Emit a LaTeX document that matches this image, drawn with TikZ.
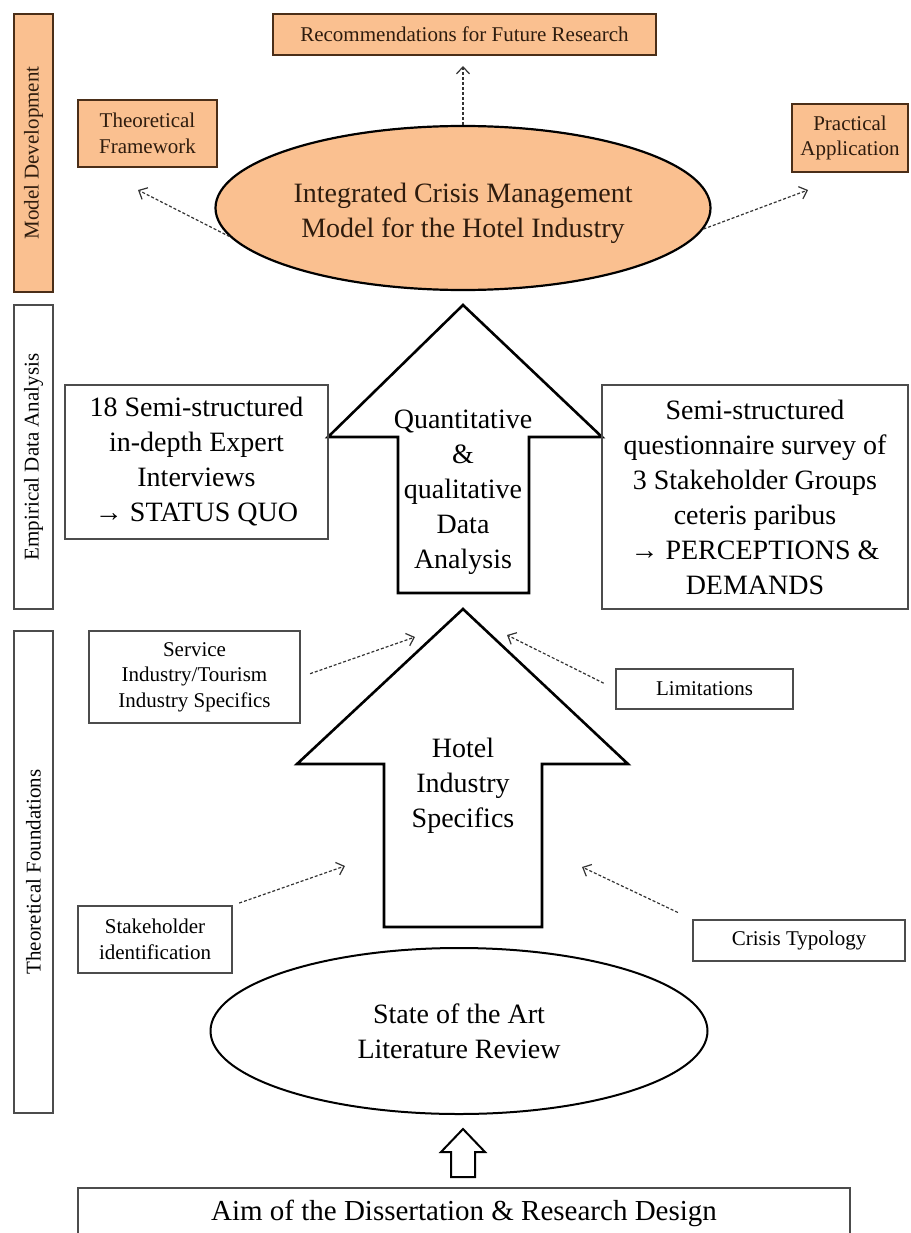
\documentclass[tikz,border=0pt]{standalone}
\usepackage{fontspec}
\setmainfont{Liberation Serif}
\usetikzlibrary{arrows.meta,shapes.geometric}
\definecolor{peach}{HTML}{FAC090}
\definecolor{peachline}{HTML}{4A2E18}
\definecolor{peachtext}{HTML}{2E1C0E}
\definecolor{boxline}{HTML}{4C4C4C}
\begin{document}
\begin{tikzpicture}[x=1pt,y=-1pt,
  small/.style={font=\fontsize{21}{25.5}\selectfont},
  big/.style={font=\fontsize{28}{35}\selectfont},
  plainbox/.style={draw=boxline,line width=1.3pt,rectangle,inner sep=0pt,align=center,small},
  peachbox/.style={plainbox,draw=peachline,fill=peach,text=peachtext},
  sidebar/.style={draw=boxline,line width=1.4pt,rectangle,inner sep=0pt,rotate=90,minimum height=39pt,small},
  blockarrow/.style={draw=black,line width=2.6pt,line join=miter},
  dasharrow/.style={draw=black!80,line width=1.2pt,dash pattern=on 3pt off 2pt,
    -{Straight Barb[length=7pt,width=13pt]}},
]
\clip (0,0) rectangle (910,1233);

% phase bars on the left
\node[sidebar,fill=peach,draw=peachline,text=peachtext,minimum width=278pt] (mdbar) at (33.5,153) {Model Development};
\node[sidebar,minimum width=304pt] (edbar) at (33.5,457) {Empirical Data Analysis};
\node[sidebar,minimum width=482pt] (tfbar) at (33.5,872) {Theoretical Foundations};

% model development
\node[peachbox,minimum width=383pt,minimum height=41pt] (rec) at (464.5,34.5) {Recommendations for Future Research};
\node[peachbox,minimum width=139pt,minimum height=67pt] (theo) at (147.5,133.5) {Theoretical\\Framework};
\node[peachbox,minimum width=116pt,minimum height=68pt] (prac) at (850,138) {Practical\\Application};
\node[ellipse,draw=black,line width=2.2pt,fill=peach,minimum width=495pt,minimum height=164pt,
      inner sep=0pt] (mainell) at (463,208) {};
\node[big,align=center,text=peachtext] (maintext) at (463,213) {Integrated Crisis Management\\Model for the Hotel Industry};

\coordinate (recTip) at (463,66);
\coordinate (theoTip) at (138,190);
\coordinate (pracTip) at (808,190);
\draw[dasharrow] (mainell.north) -- (recTip);
\draw[dasharrow] (mainell.187) -- (theoTip);
\draw[dasharrow] (mainell.-5) -- (pracTip);

% empirical data analysis
\draw[blockarrow] (463,305) -- (602,437) -- (529,437) -- (529,593) -- (398,593) -- (398,437) -- (328,437) -- cycle;
\node[big,align=center] (quant) at (463,492) {Quantitative\\\&\\qualitative\\Data\\Analysis};
\node[plainbox,big,minimum width=263pt,minimum height=154pt] (lbox) at (196.5,462)
  {18 Semi-structured\\in-depth Expert\\Interviews\\→ STATUS QUO};
\node[plainbox,big,minimum width=306pt,minimum height=224pt] (rbox) at (755,497)
  {Semi-structured\\questionnaire survey of\\3 Stakeholder Groups\\ceteris paribus\\→ PERCEPTIONS \&\\DEMANDS};

% theoretical foundations
\draw[blockarrow] (463,609) -- (628,764) -- (542,764) -- (542,927) -- (384,927) -- (384,764) -- (297,764) -- cycle;
\node[big,align=center] (hotel) at (463,786) {Hotel\\Industry\\Specifics};

\node[plainbox,minimum width=211pt,minimum height=92pt] (serv) at (194.5,677) {Service\\Industry/Tourism\\Industry Specifics};
\node[plainbox,minimum width=154pt,minimum height=67pt] (stake) at (155,939.5) {Stakeholder\\identification};
\node[plainbox,minimum width=177pt,minimum height=40pt] (limit) at (704.5,689) {Limitations};
\node[plainbox,minimum width=212pt,minimum height=41pt] (crisis) at (799,940.5) {Crisis Typology};

\coordinate (servTip) at (415,637);
\coordinate (stakeTip) at (345,866);
\coordinate (limitTip) at (507,635);
\coordinate (crisisTip) at (582,867);
\draw[dasharrow,shorten <=10pt] (serv.east) -- (servTip);
\draw[dasharrow,shorten <=7pt] (stake.north east) -- (stakeTip);
\draw[dasharrow,shorten <=13pt] (limit.west) -- (limitTip);
\draw[dasharrow,shorten <=16pt] (crisis.north west) -- (crisisTip);

\node[ellipse,draw=black,line width=2pt,minimum width=497pt,minimum height=166pt,inner sep=0pt,
      align=center,big] (sota) at (459,1031) {State of the Art\\Literature Review};

% research design
\draw[draw=black,line width=2pt,line join=miter] (463,1129) -- (485,1152) -- (475,1152) -- (475,1177)
  -- (451,1177) -- (451,1152) -- (441,1152) -- cycle;
\node[plainbox,font=\fontsize{29}{34}\selectfont,minimum width=772pt,minimum height=50pt] (aim) at (464,1213)
  {Aim of the Dissertation \& Research Design};
\end{tikzpicture}
\end{document}
